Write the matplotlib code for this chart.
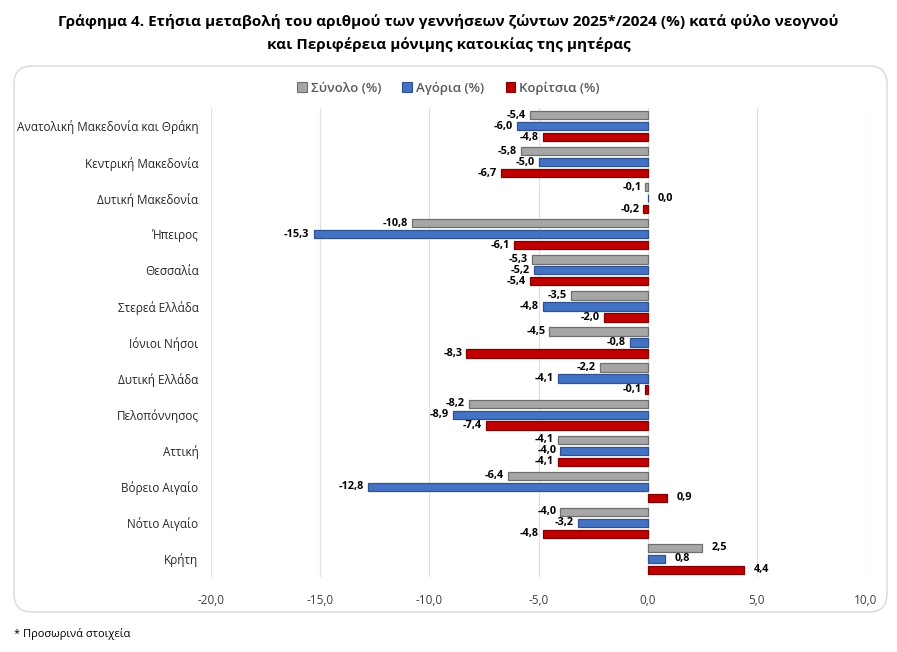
import numpy as np
import matplotlib
matplotlib.use("Agg")
import matplotlib.pyplot as plt
from matplotlib.patches import FancyBboxPatch, Patch

plt.rcParams['font.family'] = ['Open Sans', 'Noto Sans', 'DejaVu Sans']

regions = ["Ανατολική Μακεδονία και Θράκη", "Κεντρική Μακεδονία", "Δυτική Μακεδονία",
           "Ήπειρος", "Θεσσαλία", "Στερεά Ελλάδα", "Ιόνιοι Νήσοι", "Δυτική Ελλάδα",
           "Πελοπόννησος", "Αττική", "Βόρειο Αιγαίο", "Νότιο Αιγαίο", "Κρήτη"]
total = [-5.4, -5.8, -0.1, -10.8, -5.3, -3.5, -4.5, -2.2, -8.2, -4.1, -6.4, -4.0, 2.5]
boys = [-6.0, -5.0, 0.0, -15.3, -5.2, -4.8, -0.8, -4.1, -8.9, -4.0, -12.8, -3.2, 0.8]
girls = [-4.8, -6.7, -0.2, -6.1, -5.4, -2.0, -8.3, -0.1, -7.4, -4.1, 0.9, -4.8, 4.4]
series_names = ["Σύνολο (%)", "Αγόρια (%)", "Κορίτσια (%)"]
xticks = [-20, -15, -10, -5, 0, 5, 10]

colors = ['#a6a6a6', '#4472c4', '#c00000']
edges = ['#6f6f6f', '#2f528f', '#7f0000']

W, H = 897, 652
fig = plt.figure(figsize=(W / 100, H / 100), dpi=100)

# rounded frame around chart area (behind the axes)
frame = FancyBboxPatch((14 / W, 1 - 612 / H), (887 - 14) / W, (612 - 66) / H,
                       boxstyle="round,pad=0,rounding_size=0.02",
                       mutation_aspect=W / H, transform=fig.transFigure,
                       facecolor='white', edgecolor='#d9d9d9', linewidth=1.0, zorder=-5)
fig.patches.append(frame)

ax = fig.add_axes([211 / W, 1 - 577 / H, (866 - 211) / W, (577 - 108) / H])
ax.set_facecolor('none')
ax.set_zorder(2)

y = np.arange(len(regions))
off = 0.304
bh = 0.23
for i, vals in enumerate([total, boys, girls]):
    pos = y + (i - 1) * off
    ax.barh(pos, vals, height=bh, color=colors[i], edgecolor=edges[i], linewidth=0.9, zorder=3)
    for p, v in zip(pos, vals):
        txt = f"{v:.1f}".replace('.', ',')
        if v < 0:
            ax.annotate(txt, (v, p), xytext=(-3, 0), textcoords='offset points',
                        ha='right', va='center', fontsize=7.8, fontweight='bold')
        else:
            ax.annotate(txt, (v, p), xytext=(7, 0), textcoords='offset points',
                        ha='left', va='center', fontsize=7.8, fontweight='bold')

ax.set_xlim(-20, 10)
ax.set_ylim(len(regions) - 0.5, -0.5)
ax.set_xticks(xticks)
ax.set_xticklabels([f"{t:.1f}".replace('.', ',') for t in xticks], fontsize=8.5, color='#404040')
ax.set_yticks(y)
ax.set_yticklabels(regions, fontsize=8.5, color='#262626')
ax.tick_params(axis='x', length=0, pad=12)
ax.tick_params(axis='y', length=0, pad=9)
ax.grid(axis='x', color='#e0e0e0', linewidth=0.9, zorder=0)
for s in ax.spines.values():
    s.set_visible(False)

handles = [Patch(facecolor=c, edgecolor=e, linewidth=0.8) for c, e in zip(colors, edges)]
fig.legend(handles, series_names, loc='center', bbox_to_anchor=(0.5, 1 - 88 / H), ncol=3,
           frameon=False, handlelength=0.75, handleheight=0.75,
           handletextpad=0.3, columnspacing=1.6, labelcolor='#595959',
           prop={'weight': 'semibold', 'size': 9.5})

fig.text(0.5, 1 - 14 / H,
         "Γράφημα 4. Ετήσια μεταβολή του αριθμού των γεννήσεων ζώντων 2025*/2024 (%) κατά φύλο νεογνού\n"
         "και Περιφέρεια μόνιμης κατοικίας της μητέρας",
         ha='center', va='top', fontsize=11, fontweight='bold', linespacing=1.7)
fig.text(14 / W, 1 - 634 / H, "* Προσωρινά στοιχεία", ha='left', va='center', fontsize=8)

fig.savefig("out.png", dpi=100)
